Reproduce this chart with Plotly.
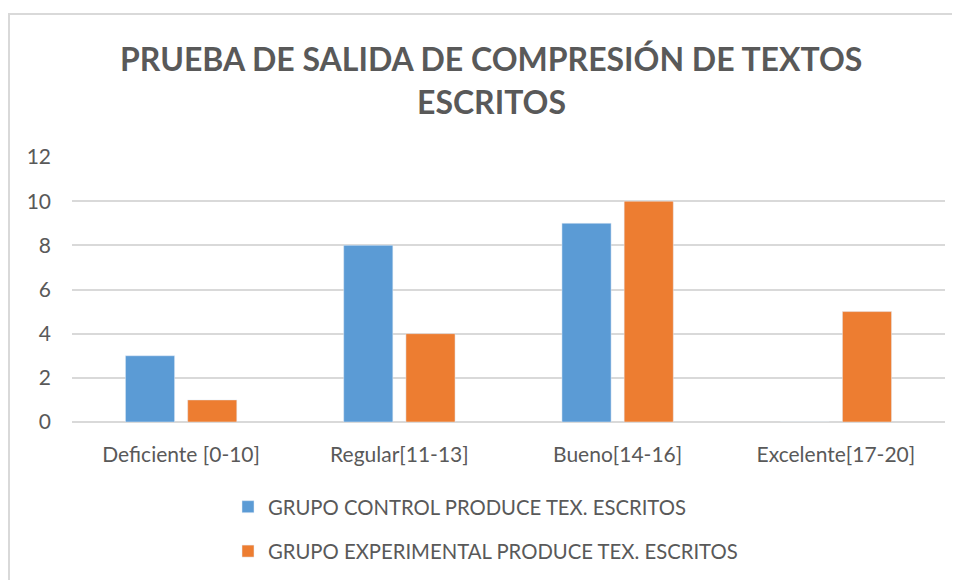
import plotly.graph_objects as go

categories = ["Deficiente [0-10]", "Regular[11-13]", "Bueno[14-16]", "Excelente[17-20]"]
control = [3, 8, 9, 0]
experimental = [1, 4, 10, 5]
series_names = ["GRUPO CONTROL PRODUCE TEX. ESCRITOS",
                "GRUPO EXPERIMENTAL PRODUCE TEX. ESCRITOS"]
y_ticks = [0, 2, 4, 6, 8, 10, 12]

TEXT = "#595959"
GRID = "#d9d9d9"
FONT = "Lato, 'Open Sans', sans-serif"

# plot area in figure pixels (page has 8px body margin)
L, T, W, H = 64, 149, 873, 265
B = T + H


def px(x):
    return (x - L) / W


def py(y):
    return (B - y) / H


fig = go.Figure()
fig.add_trace(go.Bar(x=categories, y=control, name=series_names[0],
                     marker_color="#5b9bd5", legendgroup="a"))
fig.add_trace(go.Bar(x=categories, y=experimental, name=series_names[1],
                     marker_color="#ed7d31", legendgroup="b"))

# outer chart border (only top/left visible)
fig.add_shape(type="rect", xref="paper", yref="paper",
              x0=px(1), x1=1.2, y0=-1.0, y1=py(6),
              line=dict(color=GRID, width=2), fillcolor="rgba(0,0,0,0)")

for txt, yy in [("<b>PRUEBA DE SALIDA DE COMPRESIÓN DE TEXTOS</b>", 50),
                ("<b>ESCRITOS</b>", 93)]:
    fig.add_annotation(text=txt, xref="paper", yref="paper",
                       x=px(483), y=py(yy), xanchor="center", yanchor="middle",
                       showarrow=False, font=dict(size=32, color=TEXT, family=FONT))

fig.update_layout(
    width=960, height=580,
    margin=dict(l=L, r=960 - L - W, t=T, b=580 - B),
    paper_bgcolor="white", plot_bgcolor="white",
    font=dict(family=FONT, color=TEXT, size=21),
    barmode="group", bargap=0.43, bargroupgap=0.21,
    showlegend=True,
    legend=dict(orientation="v", x=px(220), xanchor="left",
                y=py(479), yanchor="top",
                font=dict(size=20.3, color=TEXT), tracegroupgap=15,
                itemclick=False),
)
fig.update_xaxes(showgrid=False, showline=False, ticks="",
                 ticklabelstandoff=18, tickfont=dict(size=21, color=TEXT))
fig.update_yaxes(range=[0, 12], tickvals=y_ticks, showgrid=True, gridcolor=GRID,
                 gridwidth=1.5, zeroline=True, zerolinecolor=GRID, zerolinewidth=1.5,
                 showline=False, ticks="", ticklabelstandoff=20,
                 tickfont=dict(size=21, color=TEXT))

fig.write_html("out.html")
